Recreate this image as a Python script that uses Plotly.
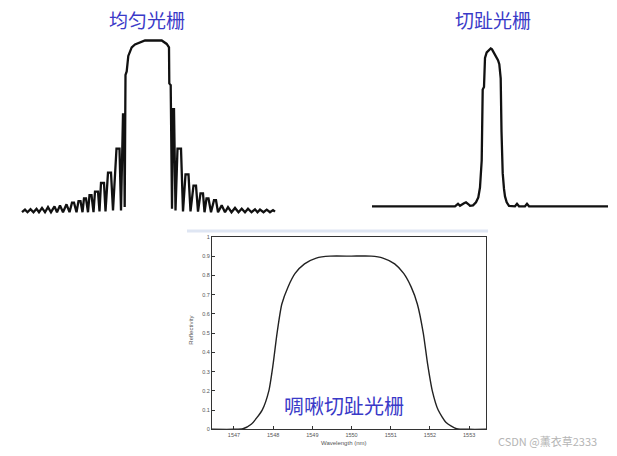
import plotly.graph_objects as go

W, H = 617, 456

# ---------------- data ----------------
# Uniform grating: relative wavelength (arbitrary units) and normalised reflectance
uni_x = [22, 25, 27.5, 30.5, 33.5, 36.5, 39, 42, 45, 48, 51, 54.5, 57, 60, 63, 66.5, 69.5,
         72, 74, 76.5, 78.5, 80.5, 82.5, 84, 86, 88, 89.5, 91.5, 93.5, 95, 98, 99.5, 101, 104,
         105.5, 108, 111, 113, 116.5, 119.5, 121, 123, 124, 124.7, 125.5, 126.7, 128.3, 131.7,
         135, 141.7, 145, 161.7, 166.7, 169, 169.3, 170.7, 171, 172, 173, 174, 175.5, 177.5,
         181, 183, 185.5, 188.5, 190.5, 193.5, 196, 198, 200.5, 203, 204.5, 206.5, 208.5, 211,
         214, 216, 218, 221.7, 225, 228, 231.5, 235, 238.5, 241.7, 245, 248, 251.5, 255, 257.5,
         260, 263.5, 266.7, 270, 273, 275]
uni_r = [0.0, 0.015, 0.0, 0.018, 0.0, 0.02, 0.0, 0.025, 0.0, 0.03, 0.0, 0.034, 0.0, 0.04, 0.0,
         0.046, 0.0, 0.055, 0.055, 0.0, 0.065, 0.065, 0.0, 0.08, 0.08, 0.0, 0.1, 0.1, 0.0, 0.12,
         0.12, 0.005, 0.17, 0.17, 0.005, 0.23, 0.23, 0.01, 0.37, 0.37, 0.01, 0.57, 0.57, 0.03,
         0.8, 0.82, 0.91, 0.96, 0.977, 0.994, 1.0, 1.0, 0.98, 0.96, 0.75, 0.74, 0.63, 0.02, 0.6,
         0.6, 0.01, 0.37, 0.37, 0.005, 0.22, 0.22, 0.005, 0.155, 0.155, 0.003, 0.11, 0.11, 0.0,
         0.08, 0.08, 0.0, 0.07, 0.07, 0.0, 0.04, 0.0, 0.03, 0.0, 0.025, 0.0, 0.02, 0.0, 0.02,
         0.0, 0.017, 0.0, 0.015, 0.0, 0.015, 0.0, 0.012, 0.003]

# Apodized grating: relative wavelength (arbitrary units) and normalised reflectance
apo_x = [-119, -36, -33, -31, -27, -25, -22.5, -21, -18, -15, -12.7, -11, -9.3, -8.7, -8.3,
         -7, -6.7, -6, -4.3, -0.3, 1, 4, 7, 8.3, 9.7, 10.5, 11.7, 13, 14, 15.7, 18, 24, 26,
         28, 34, 36, 38, 117]
apo_r = [0.0, 0.0, 0.016, 0.003, 0.019, 0.025, 0.0125, 0.003, 0.006, 0.025, 0.056, 0.12,
         0.29, 0.475, 0.74, 0.756, 0.84, 0.94, 0.975, 1.0, 0.994, 0.96, 0.925, 0.9, 0.81,
         0.475, 0.21, 0.11, 0.0625, 0.025, 0.002, 0.0, 0.016, 0.0, 0.0, 0.016, 0.0, 0.0]

# Chirped apodized grating
wavelength = [1546.44, 1547.0, 1547.23, 1547.44, 1547.72, 1547.89, 1548.0, 1548.10, 1548.22,
              1548.38, 1548.56, 1548.80, 1549.10, 1549.45, 1550.0, 1550.5, 1550.80, 1551.10,
              1551.33, 1551.52, 1551.68, 1551.83, 1551.94, 1552.06, 1552.21, 1552.42, 1552.68,
              1553.0, 1553.43]
reflectivity = [0.0, 0.0, 0.003, 0.026, 0.10, 0.20, 0.34, 0.50, 0.65,
                0.74, 0.81, 0.86, 0.89, 0.9, 0.9, 0.9, 0.89, 0.86,
                0.81, 0.74, 0.65, 0.50, 0.34, 0.20, 0.10, 0.034, 0.003,
                0.0, 0.0]

x_ticks = [1547, 1548, 1549, 1550, 1551, 1552, 1553]
y_ticks = [0, 0.1, 0.2, 0.3, 0.4, 0.5, 0.6, 0.7, 0.8, 0.9, 1]
y_tick_text = ["0", "0.1", "0.2", "0.3", "0.4", "0.5", "0.6", "0.7", "0.8", "0.9", "1"]

titles = ["均匀光栅", "切趾光栅", "啁啾切趾光栅"]
x_title = "Wavelength (nm)"
y_title = "Reflectivity"
watermark = "CSDN @薰衣草2333"


def px(x):
    return x / W


def py(y):
    return 1 - y / H


fig = go.Figure()
fig.add_trace(go.Scatter(x=uni_x, y=uni_r, mode="lines", xaxis="x", yaxis="y",
                         line=dict(color="#111111", width=2.3), showlegend=False))
fig.add_trace(go.Scatter(x=apo_x, y=apo_r, mode="lines", xaxis="x2", yaxis="y2",
                         line=dict(color="#111111", width=2.3), showlegend=False))
fig.add_trace(go.Scatter(x=wavelength, y=reflectivity, mode="lines", xaxis="x3", yaxis="y3",
                         line=dict(color="#222222", width=1.4, shape="spline", smoothing=0.6),
                         showlegend=False))

tick_font = dict(family="Liberation Sans, Arial", size=5.5, color="#555555")

fig.update_layout(
    width=W, height=H,
    margin=dict(l=0, r=0, t=0, b=0),
    paper_bgcolor="white", plot_bgcolor="white",
    xaxis=dict(domain=[px(0), px(300)], range=[0, 300], visible=False),
    yaxis=dict(domain=[py(225), py(25)], range=[-0.0747, 1.0747], visible=False),
    xaxis2=dict(domain=[px(360), px(617)], range=[-131, 126], visible=False),
    yaxis2=dict(domain=[py(225), py(25)], range=[-0.11875, 1.13125], visible=False),
    xaxis3=dict(domain=[px(212), px(486)], range=[1546.44, 1553.43], anchor="y3",
                tickvals=x_ticks, ticktext=[str(v) for v in x_ticks], ticks="inside",
                ticklen=3, tickcolor="#333333", showline=True, linecolor="#333333",
                linewidth=1.2, mirror=True, showgrid=False, zeroline=False,
                tickfont=tick_font),
    yaxis3=dict(domain=[py(432), py(237)], range=[0, 1], anchor="x3",
                tickvals=y_ticks, ticktext=y_tick_text, ticks="inside", ticklen=3,
                tickcolor="#333333", showline=True, linecolor="#333333", linewidth=1.2,
                mirror=True, showgrid=False, zeroline=False, tickfont=tick_font),
)

title_font = dict(family="Noto Sans CJK SC", size=19, color="#3a3ac8")


def label(x, y, text, font, angle=0):
    fig.add_annotation(x=px(x), y=py(y), xref="paper", yref="paper", text=text,
                       showarrow=False, xanchor="center", yanchor="middle",
                       textangle=angle, font=font)


label(147, 17, titles[0], title_font)
label(493, 17, titles[1], title_font)
label(344, 408, titles[2], dict(family="Noto Sans CJK SC", size=20, color="#3a3ac8"))
label(343, 446, x_title, dict(family="Liberation Sans, Arial", size=6, color="#555555"))
label(191, 332, y_title, dict(family="Liberation Sans, Arial", size=6, color="#555555"), -90)
label(547, 444, watermark, dict(family="Noto Sans CJK SC", size=11, color="#b5b5b5"))

fig.add_shape(type="line", xref="paper", yref="paper", x0=px(187), x1=px(488),
              y0=py(231), y1=py(231), line=dict(color="#dfe6f3", width=3))

fig.write_html("out.html", config={"displayModeBar": False},
               post_script="document.body.style.margin='0';")
